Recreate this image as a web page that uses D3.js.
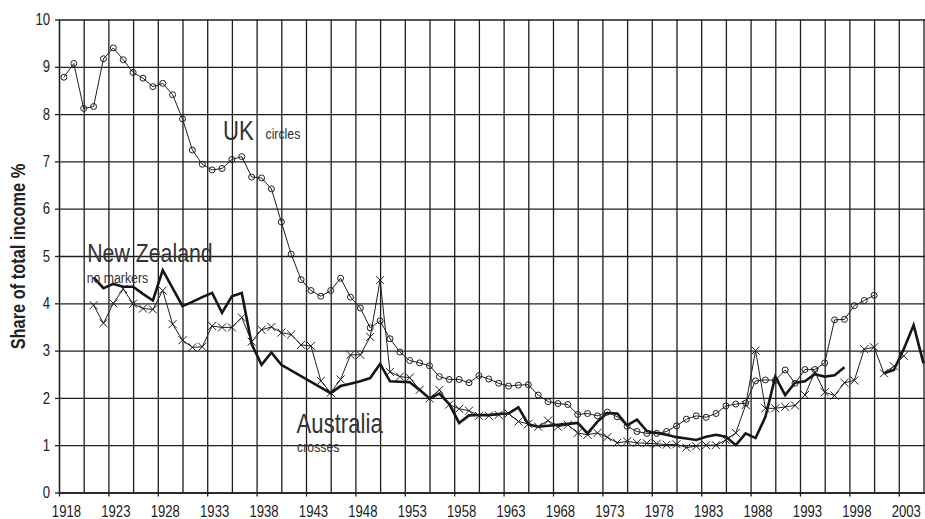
<!DOCTYPE html>
<html>
<head>
<meta charset="utf-8">
<script src="https://cdn.jsdelivr.net/npm/d3@7"></script>
<style>
  body { margin: 0; background: #fff; }
  svg { display: block; font-family: "Liberation Sans", Arial, sans-serif; }
</style>
</head>
<body>
<svg id="chart"></svg>
<script>
// UK, 1918-2000 (circles)
const ukStart = 1918;
const ukValues = [
  8.78, 9.07, 8.12, 8.16, 9.17, 9.40, 9.15, 8.88, 8.76, 8.58,
  8.65, 8.41, 7.90, 7.24, 6.94, 6.82, 6.85, 7.04, 7.10, 6.67,
  6.65, 6.42, 5.72, 5.04, 4.50, 4.27, 4.15, 4.27, 4.53, 4.13,
  3.90, 3.48, 3.63, 3.25, 2.97, 2.79, 2.74, 2.68, 2.45, 2.39,
  2.39, 2.32, 2.47, 2.40, 2.31, 2.25, 2.27, 2.28, 2.06, 1.92,
  1.88, 1.86, 1.65, 1.67, 1.62, 1.70, 1.60, 1.40, 1.29, 1.25,
  1.25, 1.29, 1.41, 1.55, 1.62, 1.59, 1.67, 1.83, 1.87, 1.89,
  2.36, 2.38, 2.37, 2.59, 2.31, 2.60, 2.60, 2.74, 3.65, 3.66,
  3.95, 4.06, 4.17
];

// Australia, 1921-2003 (crosses)
const auStart = 1921;
const auValues = [
  3.96, 3.58, 4.00, 4.30, 3.99, 3.89, 3.87, 4.27, 3.56, 3.22,
  3.07, 3.08, 3.52, 3.49, 3.49, 3.70, 3.19, 3.44, 3.50, 3.38,
  3.34, 3.12, 3.10, 2.36, 2.11, 2.39, 2.91, 2.91, 3.29, 4.49,
  2.55, 2.45, 2.43, 2.17, 1.99, 2.17, 1.86, 1.77, 1.73, 1.62,
  1.62, 1.64, 1.67, 1.50, 1.45, 1.39, 1.52, 1.39, 1.43, 1.26,
  1.22, 1.26, 1.17, 1.05, 1.08, 1.05, 1.04, 1.03, 1.01, 1.02,
  0.95, 0.98, 1.00, 1.00, 1.11, 1.26, 1.85, 3.00, 1.78, 1.78,
  1.81, 1.84, 2.06, 2.55, 2.12, 2.05, 2.32, 2.37, 3.03, 3.07,
  2.52, 2.67, 2.89
];

// New Zealand (no markers); 1941-44 not reported, null = break in the line
const nzYears = [
  1921, 1922, 1923, 1924, 1925, 1926, 1927, 1928, 1929, 1930,
  1931, 1932, 1933, 1934, 1935, 1936, 1937, 1938, 1939, 1940,
  1945, 1946, 1947, 1948, 1949, 1950, 1951, 1952, 1953, 1954,
  1955, 1956, 1957, 1958, 1959, 1960, 1961, 1962, 1963, 1964,
  1965, 1966, 1967, 1968, 1969, 1970, 1971, 1972, 1973, 1974,
  1975, 1976, 1977, 1978, 1979, 1980, 1981, 1982, 1983, 1984,
  1985, 1986, 1987, 1988, 1989, 1990, 1991, 1992, 1993, 1994,
  1995, 1996, 1997, 1998, 1999, 2000, 2001, 2002, 2003, 2004,
  2005
];
const nzValues = [
  4.55, 4.32, 4.41, 4.35, 4.35, 4.20, 4.06, 4.70, 4.32, 3.94,
  4.03, 4.13, 4.22, 3.80, 4.15, 4.22, 3.14, 2.70, 2.96, 2.70,
  2.10, 2.25, 2.30, 2.35, 2.42, 2.72, 2.35, 2.34, 2.33, 2.17,
  1.99, 2.09, 1.87, 1.47, 1.63, 1.64, 1.64, 1.66, 1.67, 1.80,
  1.44, 1.39, 1.41, 1.43, 1.45, 1.47, 1.25, 1.50, 1.68, 1.67,
  1.42, 1.54, 1.30, 1.26, 1.22, 1.17, 1.14, 1.11, 1.18, 1.22,
  1.18, 1.00, 1.25, 1.15, 1.60, 2.45, 2.06, 2.32, 2.35, 2.50,
  2.45, 2.48, 2.65, null, null, null, 2.52, 2.59, 3.03, 3.54,
  2.73
];

const yTicks = [0, 1, 2, 3, 4, 5, 6, 7, 8, 9, 10];
const xLabels = [1918, 1923, 1928, 1933, 1938, 1943, 1948, 1953, 1958, 1963,
                 1968, 1973, 1978, 1983, 1988, 1993, 1998, 2003];
const yTitle = "Share of total income %";

const W = 925, H = 519;
const plotLeft = 59, plotTop = 19.5, plotBottom = 492.5;
const yearPx = 9.88;
const squeeze = 0.82;   // the original uses a narrow face; squash Liberation Sans to match

const svg = d3.select("#chart").attr("width", W).attr("height", H);

// one category per year, point in the middle of its slot
const x = d3.scaleLinear()
  .domain([1917.5, 2006.5])
  .range([plotLeft, plotLeft + 89 * yearPx]);
const y = d3.scaleLinear().domain([0, 10]).range([plotBottom, plotTop]);
const plotW = x.range()[1] - plotLeft;

const ink = "#1e1e1e";

function narrow(sel) {
  sel.each(function () {
    const t = d3.select(this);
    const x0 = +t.attr("x") || 0;
    const tr = t.attr("transform") || "";
    t.attr("x", x0 / squeeze).attr("transform", `${tr} scale(${squeeze},1)`);
  });
}

// grid
const gridYears = d3.range(1917.5, 2006, 2.5);
svg.append("g")
  .attr("transform", `translate(0,${plotBottom})`)
  .call(d3.axisBottom(x).tickValues(gridYears).tickSize(-(plotBottom - plotTop)).tickFormat(""))
  .call(g => g.select(".domain").remove())
  .call(g => g.selectAll("line").attr("stroke", ink).attr("stroke-width", 1.3));

svg.append("g")
  .attr("transform", `translate(${plotLeft},0)`)
  .call(d3.axisLeft(y).tickValues(yTicks).tickSize(-plotW).tickFormat(""))
  .call(g => g.select(".domain").remove())
  .call(g => g.selectAll("line").attr("stroke", ink).attr("stroke-width", 1.3));

// axes
svg.append("g")
  .attr("transform", `translate(${plotLeft},0)`)
  .call(d3.axisLeft(y).tickValues(yTicks).tickSizeInner(4).tickSizeOuter(0).tickPadding(5))
  .call(g => g.select(".domain").attr("stroke", ink).attr("stroke-width", 1.3))
  .call(g => g.selectAll("line").attr("stroke", ink).attr("stroke-width", 1.3))
  .call(g => g.selectAll("text").attr("fill", "#222").style("font-size", "16px").call(narrow));

svg.append("g")
  .attr("transform", `translate(0,${plotBottom})`)
  .call(d3.axisBottom(x).tickValues(d3.range(1917.5, 2006, 5)).tickSizeInner(4).tickSizeOuter(0).tickFormat(""))
  .call(g => g.select(".domain").attr("stroke", ink).attr("stroke-width", 1.3))
  .call(g => g.selectAll("line").attr("stroke", ink).attr("stroke-width", 1.3));

svg.append("g")
  .attr("transform", `translate(0,${plotBottom})`)
  .call(d3.axisBottom(x).tickValues(xLabels).tickSize(0).tickPadding(13).tickFormat(d3.format("d")))
  .call(g => g.select(".domain").remove())
  .call(g => g.selectAll("text").attr("fill", "#222").attr("x", 2).style("font-size", "16px").call(narrow));

svg.selectAll("g").attr("font-family", null);

svg.append("text")
  .attr("transform", `translate(25,${(plotTop + plotBottom) / 2 + 0.5}) rotate(-90)`)
  .attr("text-anchor", "middle")
  .style("font-size", "20px")
  .style("font-weight", "bold")
  .attr("fill", "#222")
  .text(yTitle)
  .call(narrow);

// series
const uk = ukValues.map((v, i) => ({ year: ukStart + i, v }));
const au = auValues.map((v, i) => ({ year: auStart + i, v }));
const nz = nzYears.map((yr, i) => ({ year: yr, v: nzValues[i] }));

const line = d3.line()
  .defined(d => d.v != null)
  .x(d => x(d.year))
  .y(d => y(d.v));

svg.append("path").datum(nz)
  .attr("fill", "none").attr("stroke", "#151515").attr("stroke-width", 2.6)
  .attr("d", line);

svg.append("path").datum(au)
  .attr("fill", "none").attr("stroke", ink).attr("stroke-width", 1)
  .attr("d", line);

svg.append("g").selectAll("path").data(au).join("path")
  .attr("transform", d => `translate(${x(d.year)},${y(d.v)})`)
  .attr("d", d3.symbol(d3.symbolTimes, 44))
  .attr("fill", "none").attr("stroke", ink).attr("stroke-width", 1);

svg.append("path").datum(uk)
  .attr("fill", "none").attr("stroke", ink).attr("stroke-width", 1)
  .attr("d", line);

svg.append("g").selectAll("circle").data(uk).join("circle")
  .attr("cx", d => x(d.year))
  .attr("cy", d => y(d.v))
  .attr("r", 3)
  .attr("fill", "none").attr("stroke", ink).attr("stroke-width", 1);

// series notes, anchored in data space
const notes = [
  { text: "UK", year: 1934.1, v: 7.45, size: 27 },
  { text: "circles", year: 1938.4, v: 7.47, size: 15 },
  { text: "New Zealand", year: 1920.35, v: 4.87, size: 26 },
  { text: "no markers", year: 1920.3, v: 4.43, size: 15 },
  { text: "Australia", year: 1941.55, v: 1.26, size: 27 },
  { text: "crosses", year: 1941.6, v: 0.86, size: 15 }
];
svg.append("g").selectAll("text").data(notes).join("text")
  .attr("x", d => x(d.year))
  .attr("y", d => y(d.v))
  .style("font-size", d => d.size + "px")
  .attr("fill", "#333")
  .text(d => d.text)
  .call(narrow);
</script>
</body>
</html>
